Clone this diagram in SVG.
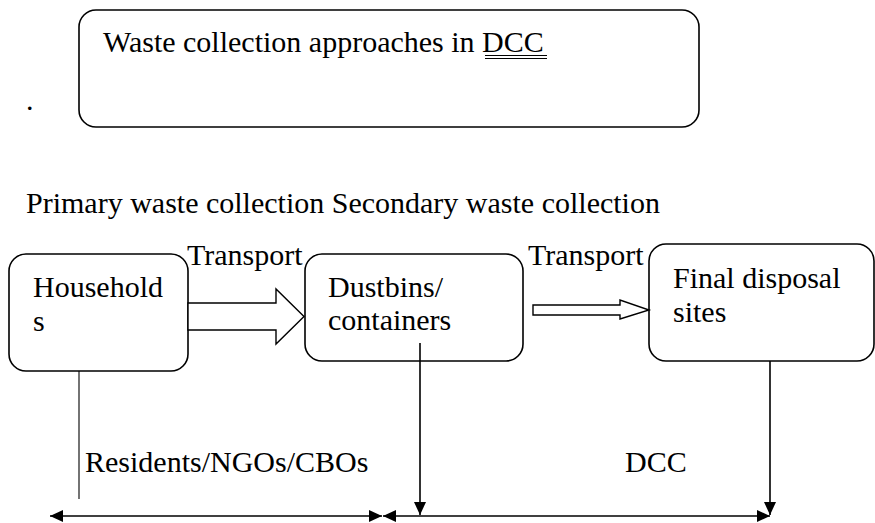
<svg xmlns="http://www.w3.org/2000/svg" width="875" height="523" viewBox="0 0 875 523">
<style>
text{font-family:'Liberation Serif','Times New Roman',Times,serif;font-size:30px;fill:#000}
.box{fill:#fff;stroke:#000;stroke-width:1.6}
.ln{stroke:#000;stroke-width:1.6;fill:none}
.thin{stroke:#000;stroke-width:1.1;fill:none}
.hollow{fill:#fff;stroke:#000;stroke-width:1.4;stroke-linejoin:miter}
</style>
<defs>
<marker id="ah" viewBox="0 0 13 12" refX="13" refY="6" markerWidth="13" markerHeight="12" markerUnits="userSpaceOnUse" orient="auto-start-reverse">
<path d="M0,0 L13,6 L0,12 z" fill="#000"/>
</marker>
</defs>
<rect width="875" height="523" fill="#fff"/>
<g id="title">
<rect class="box" x="79" y="10" width="620" height="117" rx="17"/>
<text x="103" y="52" font-family="Liberation Serif, serif">Waste collection approaches in DCC</text>
<line x1="485" y1="55.5" x2="547" y2="55.5" stroke="#000" stroke-width="1.2"/>
<line x1="485" y1="58.5" x2="547" y2="58.5" stroke="#000" stroke-width="1.2"/>
</g>
<text x="26" y="110" font-family="Liberation Serif, serif">.</text>
<text x="26" y="213" font-family="Liberation Serif, serif">Primary waste collection Secondary waste collection</text>
<g id="households">
<rect class="box" x="9" y="254" width="179" height="117" rx="17"/>
<text x="33" y="297" font-family="Liberation Serif, serif">Household</text>
<text x="33" y="331" font-family="Liberation Serif, serif">s</text>
</g>
<g id="dustbins">
<rect class="box" x="305" y="254" width="218" height="107" rx="17"/>
<text x="328" y="297" font-family="Liberation Serif, serif">Dustbins/</text>
<text x="328" y="330" font-family="Liberation Serif, serif">containers</text>
</g>
<g id="final">
<rect class="box" x="649" y="244" width="225" height="117" rx="17"/>
<text x="673" y="288" font-family="Liberation Serif, serif">Final disposal</text>
<text x="673" y="322" font-family="Liberation Serif, serif">sites</text>
</g>
<g id="connectors">
<polygon class="hollow" points="188,303 276,303 276,289 304,316.5 276,344 276,330 188,330"/>
<text x="187" y="265" font-family="Liberation Serif, serif">Transport</text>
<polygon class="hollow" points="533,305 620,305 620,300 649,310 620,319 620,315 533,315"/>
<text x="528" y="265" font-family="Liberation Serif, serif">Transport</text>
<line class="thin" x1="79" y1="371" x2="79" y2="499"/>
<line class="ln" x1="420" y1="343" x2="420" y2="515" marker-end="url(#ah)"/>
<line class="ln" x1="770" y1="361" x2="770" y2="515" marker-end="url(#ah)"/>
<line class="ln" x1="50" y1="516" x2="382" y2="516" marker-start="url(#ah)" marker-end="url(#ah)"/>
<line class="ln" x1="383" y1="516" x2="770" y2="516" marker-start="url(#ah)" marker-end="url(#ah)"/>
<text x="85" y="472" font-family="Liberation Serif, serif">Residents/NGOs/CBOs</text>
<text x="625" y="472" font-family="Liberation Serif, serif">DCC</text>
</g>
</svg>
